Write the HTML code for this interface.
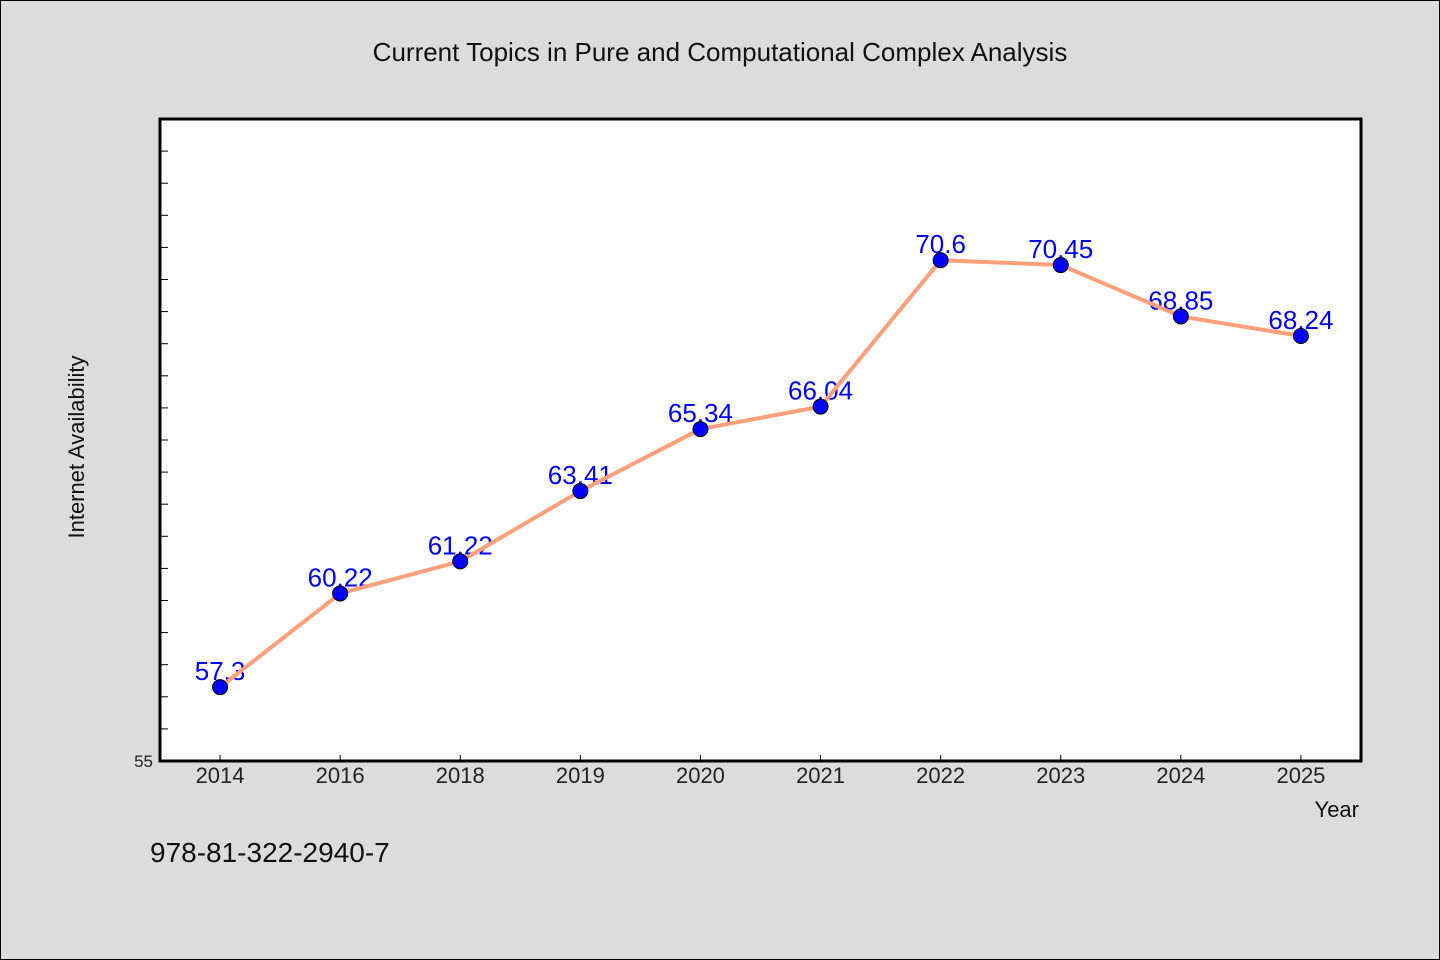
<!DOCTYPE html>
<html><head><meta charset="utf-8"><style>
html,body{margin:0;padding:0;background:#dcdcdc;}
svg{display:block;}
text{font-family:"WenQuanYi Zen Hei","Liberation Sans",sans-serif;}
</style></head><body>
<svg id="chart" width="1440" height="960" xmlns="http://www.w3.org/2000/svg">
<rect x="0.5" y="0.5" width="1439" height="959" fill="#dcdcdc" stroke="#000"/>
<text x="720" y="61" font-size="26" text-anchor="middle" fill="#111" font-family="'Liberation Mono',monospace">Current Topics in Pure and Computational Complex Analysis</text>
<rect x="160" y="119" width="1201" height="642" fill="#fff" stroke="#000" stroke-width="3"/>
<g id="yticks"></g><g id="xticks"></g><g id="labels"></g><g id="line"></g><g id="points"></g>
<text transform="translate(84,447) rotate(-90)" font-size="22" text-anchor="middle" fill="#111" font-family="'Liberation Mono',monospace">Internet Availability</text>
<text x="1359" y="817" font-size="22" text-anchor="end" fill="#111" font-family="'Liberation Mono',monospace">Year</text>
<text x="150" y="862" font-size="28" fill="#111">978-81-322-2940-7</text>
</svg>
<script>
const categories=["2014","2016","2018","2019","2020","2021","2022","2023","2024","2025"];
const values=[57.3,60.22,61.22,63.41,65.34,66.04,70.6,70.45,68.85,68.24];
const valueLabels=["57.3","60.22","61.22","63.41","65.34","66.04","70.6","70.45","68.85","68.24"];
const yMin=55,yMax=75;
const NS="http://www.w3.org/2000/svg";
const L=160,R=1361,T=119,B=761;
const band=(R-L)/categories.length;
function xs(i){return L+band*(i+0.5);}
function ys(v){return B-(v-yMin)/(yMax-yMin)*(B-T);}
function mk(tag,attrs,parent){const e=document.createElementNS(NS,tag);for(const k in attrs)e.setAttribute(k,attrs[k]);parent.appendChild(e);return e;}
const gy=document.getElementById('yticks');
for(let v=yMin+1;v<yMax;v++){const t=mk('line',{x1:L,x2:L+8,y1:ys(v),y2:ys(v),stroke:'#000','stroke-width':1},gy);

}
const yl=mk('text',{x:153,y:ys(yMin)+6,'font-size':17,'text-anchor':'end',fill:'#222'},gy);


yl.textContent=String(yMin);
const gx=document.getElementById('xticks');
categories.forEach((c,i)=>{const t=mk('line',{x1:xs(i),x2:xs(i),y1:B,y2:B-6,stroke:'#000','stroke-width':1},gx);


const lb=mk('text',{x:xs(i),y:783,'font-size':22,'text-anchor':'middle',fill:'#222'},gx);


lb.textContent=c;});
const gl=document.getElementById('labels');
values.forEach((v,i)=>{const t=mk('text',{x:xs(i),y:ys(v)-7,'font-size':26,'text-anchor':'middle',fill:'#0000ff'},gl);


t.textContent=valueLabels[i];});
const pts=values.map((v,i)=>xs(i)+','+ys(v)).join(' ');
const pl=mk('polyline',{points:pts,fill:'none',stroke:'#ffa07a','stroke-width':4,'stroke-linejoin':'round'},document.getElementById('line'));


const gp=document.getElementById('points');
values.forEach((v,i)=>{const c=mk('circle',{cx:xs(i),cy:ys(v),r:7.5,fill:'#0000ff',stroke:'#000','stroke-width':1},gp);

});
</script>
</body></html>
